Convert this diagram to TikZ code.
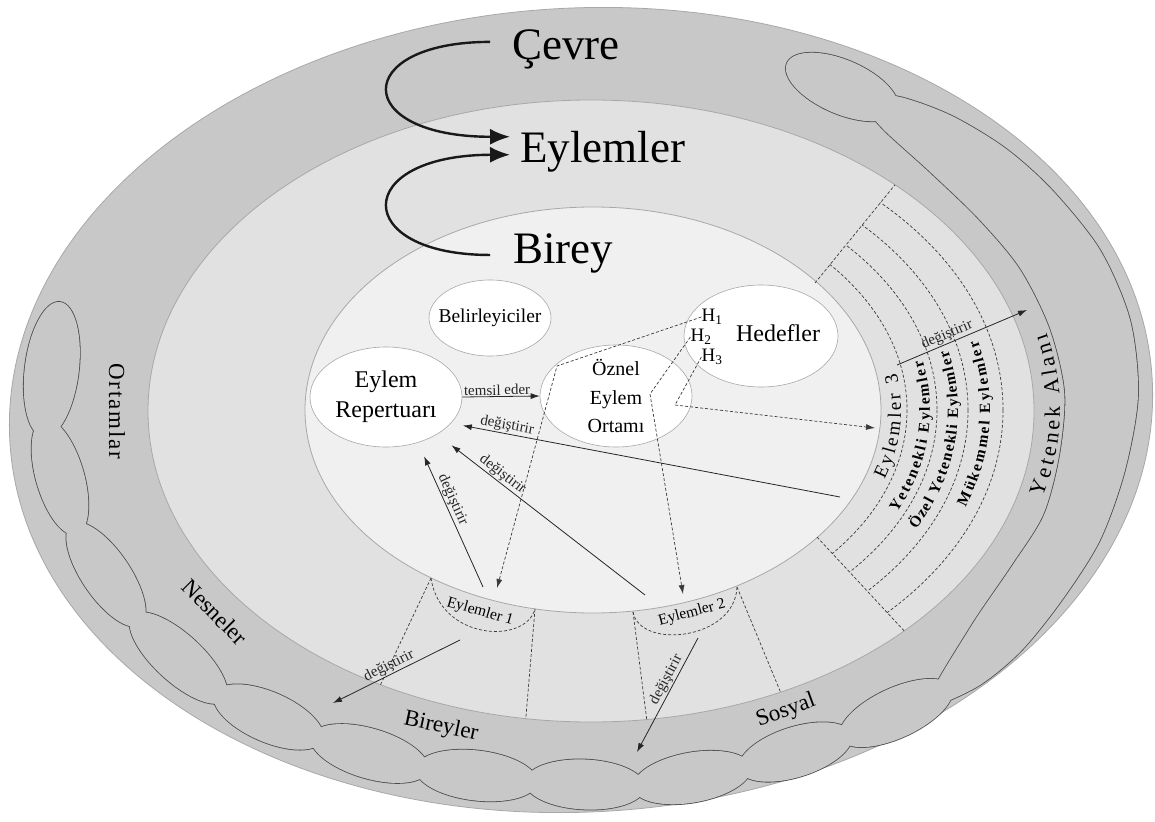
\documentclass[tikz,border=0pt]{standalone}
\usepackage{fontspec}
\setmainfont{Liberation Serif}
\usetikzlibrary{shapes.geometric,arrows.meta,decorations.text}

\definecolor{ringdark}{HTML}{C8C8C8}
\definecolor{ringmid}{HTML}{E1E1E1}
\definecolor{ringin}{HTML}{F0F0F0}
\definecolor{edgegray}{HTML}{A8A8A8}
\definecolor{cloudline}{HTML}{4A4A4A}
\definecolor{dashgray}{HTML}{3A3A3A}

% cloud lobes: x/y/angle/long radius/short radius
\newcommand\cloudlobes{51.8/369.5/-97/68/27, 60/477/-73.9/60/24, 106/574.5/-55.7/61/24,
  178.5/658/-42.5/62.5/24, 268.5/717/-23.4/58.7/25, 369.5/753.5/-16.4/60.8/25,
  476.5/775.5/-6.8/61/25, 585/784.5/-2.7/60/25, 692/777.5/10.2/59.8/25,
  795.5/752/17.6/58.8/25, 896/713/24.7/61/25, 842/87/-23.3/60/27}

\begin{document}
\begin{tikzpicture}[x=1pt, y=-1pt,
  ringtext/.style={font=\fontsize{23}{26}\selectfont, inner sep=0pt},
  bigtext/.style={font=\fontsize{45}{50}\selectfont, inner sep=0pt, anchor=base west},
  smallell/.style={ellipse, draw=edgegray, fill=white, line width=0.6pt, inner sep=0pt},
  htext/.style={font=\fontsize{19}{20}\selectfont, inner sep=0pt},
  etext/.style={font=\fontsize{15.5}{17}\selectfont, inner sep=0pt},
  dashline/.style={dashgray, line width=0.7pt, dash pattern=on 3pt off 2pt},
  arr/.style={-{Latex[length=9pt, width=6pt]}, line width=0.8pt, black!85},
  darr/.style={dashline, -{Latex[length=9pt, width=6pt]}},
  bigarr/.style={-{Latex[length=20pt, width=16pt]}, line width=2.4pt, black!90},
  lbl/.style={font=\fontsize{15}{16}\selectfont, inner sep=1pt, sloped, above},
  every label/.style={inner sep=0pt}]

\useasboundingbox (0,0) rectangle (1155,821);
\fill[white] (0,0) rectangle (1155,821);

% outer ring
\filldraw[fill=ringdark, draw=edgegray, line width=0.8pt, rotate around={3:(581,410)}]
  (581,410) ellipse [x radius=572, y radius=402];

% clouds: outlines first, then the fills hide the inner lines
\foreach \lc/\fc in {cloudline/none, none/ringdark}{
  \foreach \cx/\cy/\ang/\ra/\rb in \cloudlobes
    \path[draw=\lc, fill=\fc, line width=1.6pt, rotate around={\ang:(\cx,\cy)}]
      (\cx,\cy) ellipse [x radius=\ra, y radius=\rb];
  \path[draw=\lc, fill=\fc, line width=1.6pt] plot[smooth cycle] coordinates {
    (928,703) (975,688) (1020,652) (1062,600) (1100,540) (1125,470) (1138,395)
    (1130,320) (1100,250) (1052,190) (1005,148) (950,115) (895,96) (866,104)
    (882,128) (928,170) (978,218) (1020,268) (1050,328) (1065,392) (1060,455)
    (1044,515) (1012,566) (970,628)};
}

% middle and inner rings
\filldraw[fill=ringmid, draw=edgegray, line width=0.8pt] (591,411) ellipse [x radius=443, y radius=311];
\filldraw[fill=ringin, draw=edgegray, line width=0.8pt] (593,410) ellipse [x radius=288, y radius=203];

\begin{scope}
  \clip (591,411) ellipse [x radius=443, y radius=311];
  \draw[dashline] (815,283) -- (960,105);
  \draw[dashline] (817,537) -- (960,691);
  \draw[dashline] (431,578) -- (361,726);
  \draw[dashline] (535,609) -- (524,740);
  \draw[dashline] (633,612) -- (650,745);
  \draw[dashline] (737,587) -- (790,715);
  \clip (815,283) -- (960,105) -- (1155,105) -- (1155,760) -- (960,691) -- (817,537) -- cycle;
  \foreach \d in {26,56,87,122}
    \draw[dashline] (593,410) ellipse [x radius=288+\d, y radius=203+0.72*\d];
\end{scope}

\draw[dashline] (431,578) .. controls (440,640) and (525,645) .. (535,609);
\draw[dashline] (633,612) .. controls (640,650) and (735,640) .. (737,587);

% curved labels
\path[decorate, decoration={text along path, text align={fit to path},
  text={|\fontsize{19}{20}\selectfont|Eylemler 3}}]
  plot[domain=0:28.6, samples=40, variable=\t] ({593+308*cos(18.8-\t)}, {410+217*sin(18.8-\t)});
\path[decorate, decoration={text along path, text align={fit to path},
  text={|\fontsize{15.5}{16}\selectfont\bfseries|Yetenekli Eylemler}}]
  plot[domain=0:37.6, samples=40, variable=\t] ({593+337*cos(25.5-\t)}, {410+238*sin(25.5-\t)});
\path[decorate, decoration={text along path, text align={fit to path},
  text={|\fontsize{15.5}{16}\selectfont\bfseries|Özel Yetenekli Eylemler}}]
  plot[domain=0:41.1, samples=40, variable=\t] ({593+365*cos(27.7-\t)}, {410+258*sin(27.7-\t)});
\path[decorate, decoration={text along path, text align={fit to path},
  text={|\fontsize{15.5}{16}\selectfont\bfseries|Mükemmel Eylemler}}]
  plot[domain=0:34.6, samples=40, variable=\t] ({593+397*cos(20.2-\t)}, {410+281*sin(20.2-\t)});
\path[decorate, decoration={text along path, text align={fit to path},
  text={|\fontsize{22}{24}\selectfont|Yetenek Alanı}}]
  plot[domain=0:29.7, samples=40, variable=\t] ({593+467*cos(15.8-\t)}, {410+320*sin(15.8-\t)});

% ellipses
\node[smallell, minimum width=122pt, minimum height=76pt,
  label={[font=\fontsize{19.5}{22}\selectfont]center:Belirleyiciler}] (bel) at (490,318) {};
\node[smallell, minimum width=152pt, minimum height=100pt,
  label={[font=\fontsize{24}{30}\selectfont, align=center]center:Eylem\\Repertuarı}] (rep) at (386,397) {};
\node[smallell, minimum width=152pt, minimum height=102pt,
  label={[font=\fontsize{20}{28.5}\selectfont, align=center]center:Öznel\\Eylem\\Ortamı}] (oz) at (616,396) {};
\node[smallell, minimum width=154pt, minimum height=102pt,
  label={[font=\fontsize{24}{28}\selectfont, xshift=17pt, yshift=3pt]center:Hedefler}] (hed) at (761,336) {};

\node[htext] (h1) at (712,317) {H\textsubscript{1}};
\node[htext] (h2) at (701,337) {H\textsubscript{2}};
\node[htext] (h3) at (712,357) {H\textsubscript{3}};

\node[etext, rotate=-16] (e1) at (480,612) {Eylemler 1};
\node[etext, rotate=15] (e2) at (692,613) {Eylemler 2};

% big labels
\node[bigtext] (cevre) at (512,60) {Çevre};
\node[bigtext] (eyl) at (520,163) {Eylemler};
\node[bigtext] (bir) at (513,263) {Birey};

\node[ringtext, rotate=-90, font={\fontsize{23}{26}\selectfont\addfontfeature{LetterSpace=8}}] (ort) at (117,411) {Ortamlar};
\node[ringtext, rotate=-45] (nes) at (215,612) {Nesneler};
\node[ringtext, rotate=-12] (bry) at (441,727) {Bireyler};
\node[ringtext, rotate=20] (sos) at (786,711) {Sosyal};

% arrows
\draw[bigarr] ([xshift=-22pt, yshift=8pt]cevre.west) .. controls (351,42) and (351,137) .. ([xshift=-10pt, yshift=15.5pt]eyl.west);
\draw[bigarr] ([xshift=-23pt, yshift=-2pt]bir.west) .. controls (351,255) and (351,155) .. ([xshift=-10pt, yshift=-2.5pt]eyl.west);

\coordinate (k1) at (557,366);
\coordinate (t1) at (497,588);
\coordinate (k2) at (650,394);
\coordinate (t2) at (683,594);
\coordinate (k3) at (675,405);
\coordinate (t3) at (875,428);
\draw[darr] (h1.west) -- (k1) -- (t1);
\draw[darr] (h2.west) -- (k2) -- (t2);
\draw[darr] (h3.west) -- (k3) -- (t3);

\coordinate (e3in) at (840,497);
\coordinate (e2in) at (645,595);
\coordinate (e1in) at (483,587);
\coordinate (e1out) at (460,640);
\coordinate (t5) at (333,703);
\coordinate (e2out) at (698,638);
\coordinate (t6) at (637,752);
\coordinate (e3out) at (897,365);
\coordinate (t7) at (1027,310);

\draw[arr] (rep.east) -- node[lbl, pos=.45] {temsil eder} (oz.west);
\draw[arr, shorten >=12pt] (e3in) -- node[lbl, pos=.86] {değiştirir} (rep.-22);
\draw[arr, shorten >=18pt] (e2in) -- node[lbl, pos=.71] {değiştirir} (rep.-36);
\draw[arr, shorten >=15pt] (e1in) -- node[lbl, pos=.58] {değiştirir} (rep.-55);
\draw[arr] (e1out) -- node[lbl, pos=.53] {değiştirir} (t5);
\draw[arr] (e2out) -- node[lbl, pos=.4] {değiştirir} (t6);
\draw[arr] (e3out) -- node[lbl, pos=.41] {değiştirir} (t7);
\end{tikzpicture}
\end{document}
